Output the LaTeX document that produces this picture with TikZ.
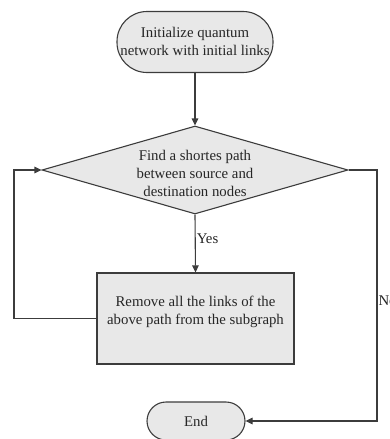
\documentclass[tikz,border=0pt]{standalone}
\usepackage{fontspec}
\setmainfont{Liberation Serif}
\usetikzlibrary{arrows.meta,shapes.geometric}
\definecolor{boxfill}{HTML}{E8E8E8}
\definecolor{linecol}{HTML}{3C3C3C}
\begin{document}
\begin{tikzpicture}[x=1pt,y=-1pt,
  every node/.style={font=\fontsize{14.8}{18}\selectfont, text=black!85},
  box/.style={draw=linecol, fill=boxfill, line width=1.1pt, inner sep=0pt},
  term/.style={box, rectangle, rounded corners=#1},
  dia/.style={box, diamond, minimum width=306pt, minimum height=88pt},
  conn/.style={draw=linecol, line width=1.1pt, -{Triangle[length=7pt,width=6.5pt]}},
  lbl/.style={inner sep=1pt}]
\useasboundingbox (0,0) rectangle (390,439);
\node[term=30pt, minimum width=156pt, minimum height=61pt] (start) at (195,42) {};
\node[align=center] (starttxt) at (195,41) {Initialize quantum\\network with initial links};
\node[dia] (find) at (195,170) {};
\node[align=center] (findtxt) at (195,173) {Find a shortes path\\between source and\\destination nodes};
\node[box, rectangle, minimum width=197pt, minimum height=91pt] (remove) at (195.5,318.5) {};
\node[align=center] (removetxt) at (195.5,312) {Remove all the links of the\\above path from the subgraph};
\node[term=19pt, minimum width=98pt, minimum height=38pt] (end) at (196,421) {End};
\coordinate (lt) at (14,318.5);
\coordinate (lb) at (14,170);
\coordinate (rt) at (377,170);
\coordinate (rb) at (377,421);
\draw[conn] (start.south) -- (find.north);
\draw[conn] (find.south) -- node[lbl, anchor=west, pos=0.42] (yes) {Yes} (remove.north);
\draw[conn] (remove.west) -- (lt) -- (lb) -- (find.west);
\draw[conn] (find.east) -- (rt) -- node[lbl, anchor=west, pos=0.52] (no) {No} (rb) -- (end.east);
\end{tikzpicture}
\end{document}
